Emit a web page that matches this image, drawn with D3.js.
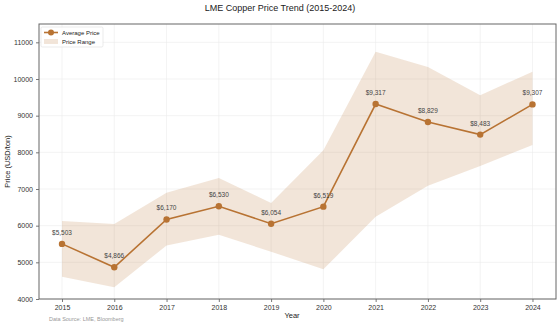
<!DOCTYPE html>
<html lang="en">
<head>
    <meta charset="UTF-8">
    <title>LME Copper Price Trend</title>
    <script src="https://d3js.org/d3.v7.min.js"></script>
    <style>
        body { margin: 0; background: #fff; }
        svg { display: block; font-family: "Liberation Sans", Arial, sans-serif; }
    </style>
</head>
<body>
<div id="chart"></div>
<script>
    const years = [2015, 2016, 2017, 2018, 2019, 2020, 2021, 2022, 2023, 2024];
    const avgPrice = [5503, 4866, 6170, 6530, 6054, 6519, 9317, 8829, 8483, 9307];
    const highPrice = [6130, 6045, 6900, 7300, 6620, 8060, 10740, 10330, 9560, 10200];
    const lowPrice = [4610, 4320, 5460, 5750, 5290, 4810, 6240, 7090, 7630, 8200];
    const yTicks = [4000, 5000, 6000, 7000, 8000, 9000, 10000, 11000];

    const width = 560, height = 327;
    const margin = {top: 24, right: 4, bottom: 28, left: 39};
    const copper = "#b87333";

    const data = years.map((y, i) => ({year: y, avg: avgPrice[i], hi: highPrice[i], lo: lowPrice[i]}));

    const svg = d3.select("#chart").append("svg")
        .attr("width", width)
        .attr("height", height);

    const x = d3.scaleLinear()
        .domain([2014.56, 2024.45])
        .range([margin.left, width - margin.right]);

    const y = d3.scaleLinear()
        .domain([4000, 11500])
        .range([height - margin.bottom, margin.top]);

    // grid
    const grid = svg.append("g").attr("stroke", "#ebebeb").attr("stroke-width", 0.6);
    grid.selectAll(".gx").data(years).join("line")
        .attr("x1", d => x(d)).attr("x2", d => x(d))
        .attr("y1", margin.top).attr("y2", height - margin.bottom);
    grid.selectAll(".gy").data(yTicks).join("line")
        .attr("x1", margin.left).attr("x2", width - margin.right)
        .attr("y1", d => y(d)).attr("y2", d => y(d));

    // range band
    const area = d3.area()
        .x(d => x(d.year))
        .y0(d => y(d.lo))
        .y1(d => y(d.hi));
    svg.append("path")
        .datum(data)
        .attr("fill", copper)
        .attr("fill-opacity", 0.19)
        .attr("d", area);

    // average line
    const line = d3.line()
        .x(d => x(d.year))
        .y(d => y(d.avg));
    svg.append("path")
        .datum(data)
        .attr("fill", "none")
        .attr("stroke", copper)
        .attr("stroke-width", 1.6)
        .attr("d", line);

    svg.append("g").selectAll("circle").data(data).join("circle")
        .attr("cx", d => x(d.year))
        .attr("cy", d => y(d.avg))
        .attr("r", 3.2)
        .attr("fill", copper);

    svg.append("g").selectAll("text").data(data).join("text")
        .attr("x", d => x(d.year))
        .attr("y", d => y(d.avg) - 9)
        .attr("text-anchor", "middle")
        .attr("font-size", 6.5)
        .attr("fill", "#444")
        .text(d => "$" + d3.format(",")(d.avg));

    // axes
    const xAxis = svg.append("g")
        .attr("transform", `translate(0,${height - margin.bottom})`)
        .call(d3.axisBottom(x).tickValues(years).tickFormat(d3.format("d")).tickSize(3).tickPadding(3));
    const yAxis = svg.append("g")
        .attr("transform", `translate(${margin.left},0)`)
        .call(d3.axisLeft(y).tickValues(yTicks).tickFormat(d3.format("d")).tickSize(3).tickPadding(3));

    [xAxis, yAxis].forEach(a => {
        a.select(".domain").remove();
        a.selectAll(".tick line").attr("stroke", "#555").attr("stroke-width", 0.8);
        a.selectAll(".tick text").attr("font-size", 7).attr("fill", "#333")
            .attr("font-family", "Liberation Sans, Arial, sans-serif");
    });

    // frame
    svg.append("rect")
        .attr("x", margin.left).attr("y", margin.top)
        .attr("width", width - margin.right - margin.left)
        .attr("height", height - margin.bottom - margin.top)
        .attr("fill", "none")
        .attr("stroke", "#666")
        .attr("stroke-width", 1);

    // titles
    svg.append("text")
        .attr("x", 280).attr("y", 11)
        .attr("text-anchor", "middle")
        .attr("font-size", 9)
        .attr("fill", "#222")
        .text("LME Copper Price Trend (2015-2024)");

    svg.append("text")
        .attr("x", x(2019.4)).attr("y", 318)
        .attr("text-anchor", "middle")
        .attr("font-size", 7.5)
        .attr("fill", "#222")
        .text("Year");

    svg.append("text")
        .attr("transform", `translate(10,${(margin.top + height - margin.bottom) / 2}) rotate(-90)`)
        .attr("text-anchor", "middle")
        .attr("font-size", 7.5)
        .attr("fill", "#222")
        .text("Price (USD/ton)");

    svg.append("text")
        .attr("x", 49).attr("y", 321)
        .attr("font-size", 5.5)
        .attr("fill", "#999")
        .text("Data Source: LME, Bloomberg");

    // legend
    const legend = svg.append("g").attr("transform", "translate(41,27)");
    legend.append("rect")
        .attr("width", 62).attr("height", 20)
        .attr("fill", "#fff").attr("fill-opacity", 0.85)
        .attr("stroke", "#ddd").attr("stroke-width", 0.6).attr("rx", 1.5);
    legend.append("line")
        .attr("x1", 3).attr("x2", 17).attr("y1", 5.5).attr("y2", 5.5)
        .attr("stroke", copper).attr("stroke-width", 1.6);
    legend.append("circle")
        .attr("cx", 10).attr("cy", 5.5).attr("r", 3).attr("fill", copper);
    legend.append("text")
        .attr("x", 21).attr("y", 7.8)
        .attr("font-size", 6).attr("fill", "#222")
        .text("Average Price");
    legend.append("rect")
        .attr("x", 3).attr("y", 12).attr("width", 14).attr("height", 5)
        .attr("fill", copper).attr("fill-opacity", 0.19);
    legend.append("text")
        .attr("x", 21).attr("y", 17)
        .attr("font-size", 6).attr("fill", "#222")
        .text("Price Range");
</script>
</body>
</html>
